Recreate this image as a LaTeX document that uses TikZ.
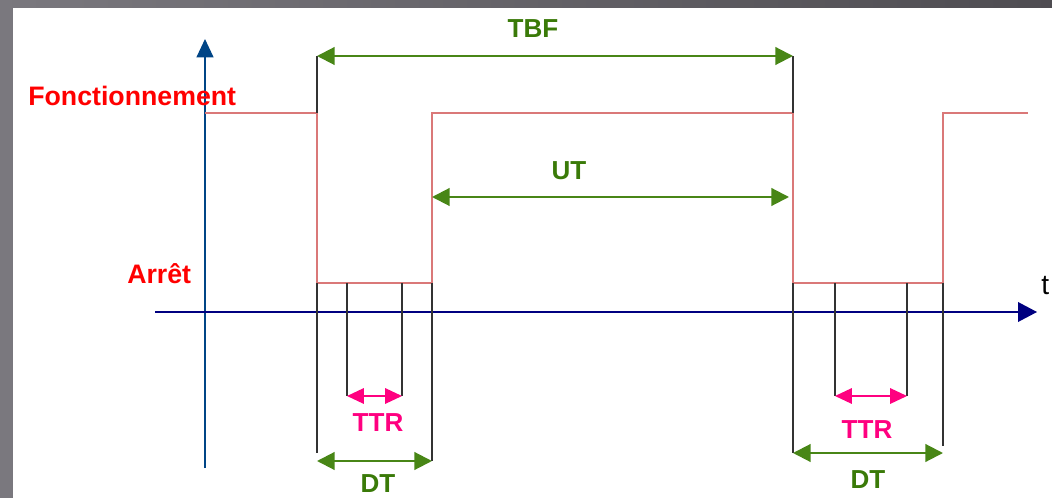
\documentclass[tikz,border=0pt]{standalone}
\usepackage{fontspec}
\setmainfont{Liberation Sans}
\usetikzlibrary{arrows.meta}

\definecolor{frameL}{RGB}{122,120,126}
\definecolor{frameR}{RGB}{78,76,81}
\definecolor{signal}{RGB}{218,120,120}
\definecolor{durgreen}{RGB}{72,134,22}
\definecolor{labgreen}{RGB}{58,122,8}
\definecolor{reppink}{RGB}{255,0,128}
\definecolor{yaxis}{RGB}{0,69,134}
\definecolor{xaxis}{RGB}{0,0,128}

\tikzset{
  statelab/.style={text=red, font=\fontsize{19}{21}\selectfont\bfseries, inner sep=0pt},
  durlab/.style={text=labgreen, font=\fontsize{18.5}{20}\selectfont\bfseries, inner sep=0pt},
  replab/.style={text=reppink, font=\fontsize{18.5}{20}\selectfont\bfseries, inner sep=0pt},
  durspan/.style={draw=durgreen, line width=1.5pt,
    {Triangle[length=12.5pt,width=12.5pt]}-{Triangle[length=12.5pt,width=12.5pt]}},
  repspan/.style={draw=reppink, line width=1.2pt,
    {Triangle[length=12pt,width=11pt]}-{Triangle[length=12pt,width=11pt]}},
  tickline/.style={draw=black!80, line width=1.1pt},
}

\begin{document}
\begin{tikzpicture}[x=0.025cm,y=-0.025cm]
  % slide frame
  \shade[left color=frameL, right color=frameR] (0,0) rectangle (1052,498);
  \fill[white] (13,8) rectangle (1052,498);

  % axes
  \coordinate (ybot) at (205,468);
  \coordinate (ytop) at (205,39);
  \coordinate (xleft) at (155,312);
  \coordinate (xright) at (1037,312);
  \draw[yaxis, line width=1pt, -{Triangle[length=13pt,width=12pt]}] (ybot) -- (ytop);
  \draw[xaxis, line width=1pt, -{Triangle[length=13.5pt,width=14pt]}] (xleft) -- (xright);
  \node[anchor=base west, inner sep=0pt, font=\fontsize{20}{22}\selectfont] (t) at (1041,295) {t};

  \node[statelab, anchor=base west] (fonct) at (28,106) {Fonctionnement};
  \node[statelab, anchor=base west] (arret) at (127,284) {Arrêt};

  % state signal
  \coordinate (s0) at (205,113);
  \coordinate (s1) at (317,113);
  \coordinate (s2) at (317,283);
  \coordinate (s3) at (432,283);
  \coordinate (s4) at (432,113);
  \coordinate (s5) at (793,113);
  \coordinate (s6) at (793,283);
  \coordinate (s7) at (943,283);
  \coordinate (s8) at (943,113);
  \coordinate (s9) at (1028,113);
  \draw[signal, line width=1pt] (s0) -- (s1) -- (s2) -- (s3) -- (s4) -- (s5) -- (s6) -- (s7) -- (s8) -- (s9);

  % TBF and UT
  \coordinate (tbfA) at (317,56);
  \coordinate (tbfB) at (793,56);
  \draw[tickline] (s1) -- (tbfA);
  \draw[tickline] (s5) -- (tbfB);
  \draw (tbfA) edge[durspan] (tbfB);
  \node[durlab, anchor=base] (tbf) at (533,38) {TBF};

  \coordinate (utA) at (432,197);
  \coordinate (utB) at (789,197);
  \draw (utA) edge[durspan] (utB);
  \node[durlab, anchor=base] (ut) at (569,180) {UT};

  % first stop
  \coordinate (a1) at (317,453);
  \coordinate (a2) at (347,283);
  \coordinate (a3) at (347,396);
  \coordinate (a4) at (402,283);
  \coordinate (a5) at (402,396);
  \coordinate (a6) at (432,461);
  \coordinate (a7) at (317,461);
  \draw[tickline] (s2) -- (a1);
  \draw[tickline] (a2) -- (a3);
  \draw[tickline] (a4) -- (a5);
  \draw[tickline] (s3) -- (a6);
  \draw (a3) edge[repspan] (a5);
  \draw (a7) edge[durspan] (a6);
  \node[replab, anchor=base] (ttrA) at (378,431) {TTR};
  \node[durlab, anchor=base] (dtA) at (378,492) {DT};

  % second stop
  \coordinate (b1) at (793,453);
  \coordinate (b2) at (835,283);
  \coordinate (b3) at (835,396);
  \coordinate (b4) at (907,283);
  \coordinate (b5) at (907,396);
  \coordinate (b6) at (943,446);
  \coordinate (b7) at (943,453);
  \draw[tickline] (s6) -- (b1);
  \draw[tickline] (b2) -- (b3);
  \draw[tickline] (b4) -- (b5);
  \draw[tickline] (s7) -- (b6);
  \draw (b3) edge[repspan] (b5);
  \draw (b1) edge[durspan] (b7);
  \node[replab, anchor=base] (ttrB) at (867,438) {TTR};
  \node[durlab, anchor=base] (dtB) at (868,488) {DT};
\end{tikzpicture}
\end{document}
